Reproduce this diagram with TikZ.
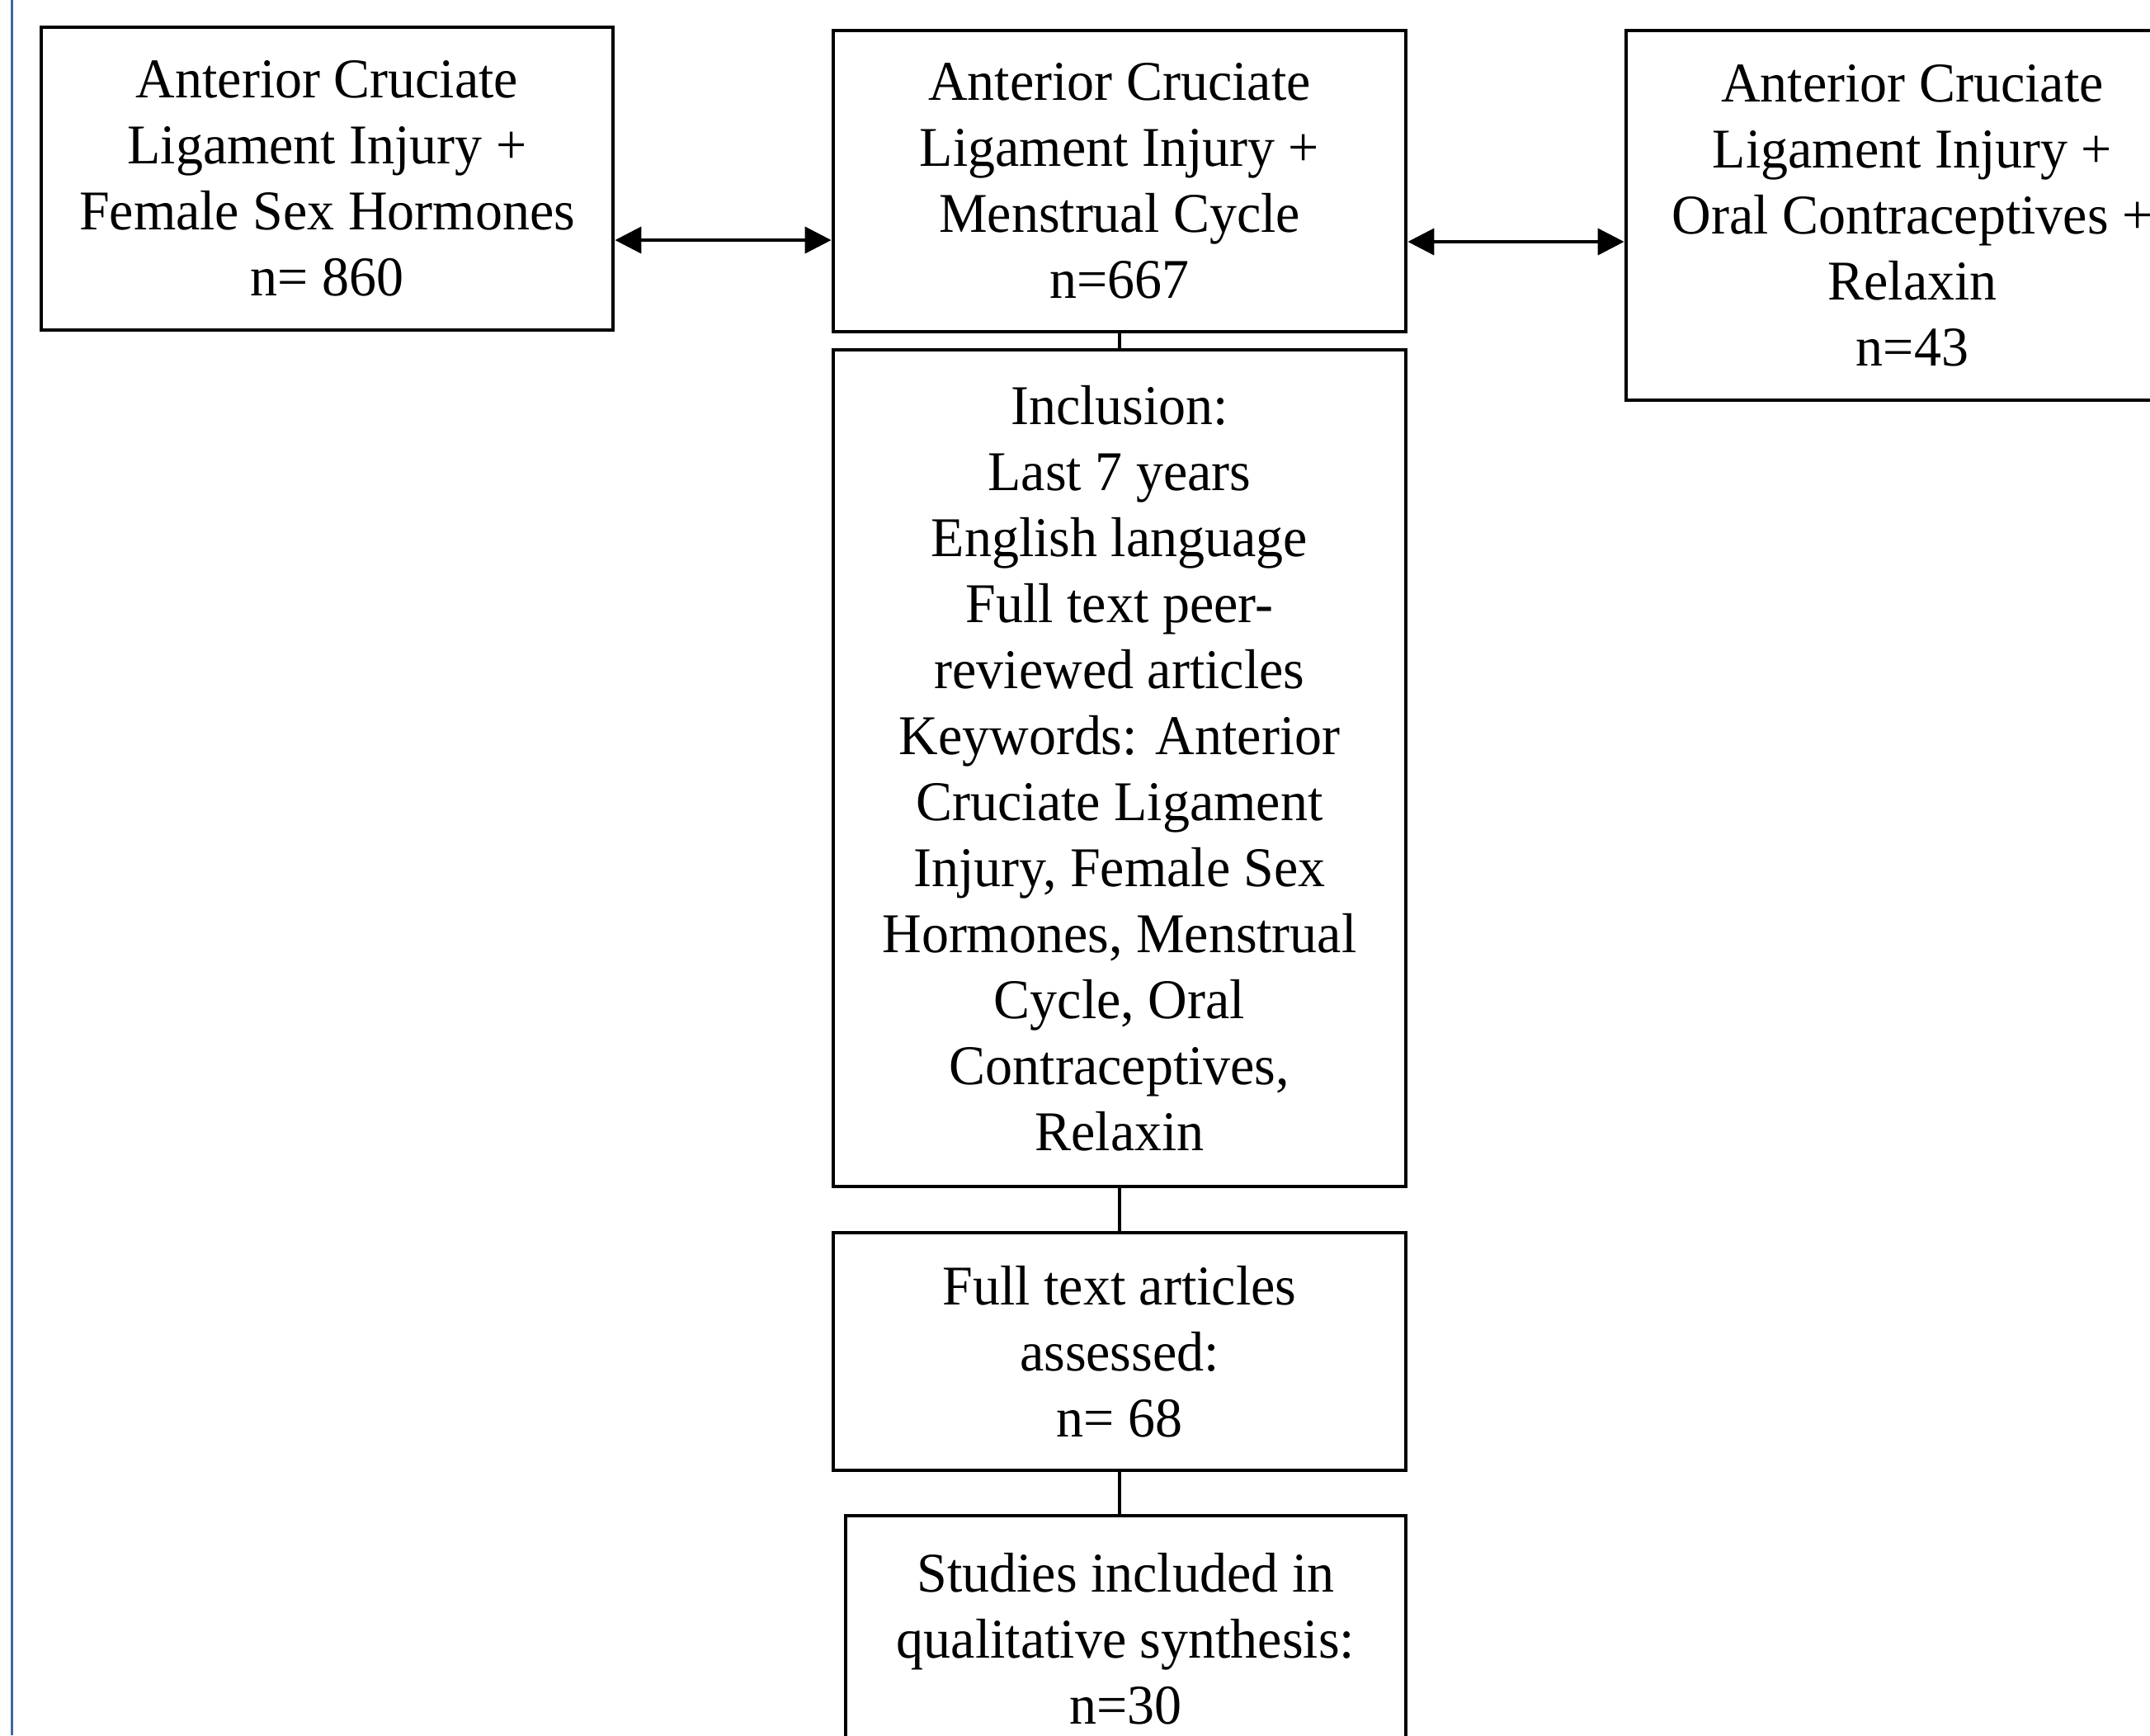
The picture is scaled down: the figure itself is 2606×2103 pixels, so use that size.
\documentclass[tikz,border=0pt]{standalone}
\usepackage{fontspec}
\setmainfont[FakeStretch=0.97]{Liberation Serif}
\usetikzlibrary{arrows.meta}
\definecolor{edgeblue}{RGB}{65,105,160}
\tikzset{
  box/.style={draw=black, line width=1.2pt, align=center, inner sep=0pt,
    font=\fontsize{17pt}{20pt}\selectfont},
  link/.style={draw=black, line width=1pt},
  twoway/.style={draw=black, line width=1pt, {Triangle[length=8pt,width=8pt]}-{Triangle[length=8pt,width=8pt]}}
}
\begin{document}
\begin{tikzpicture}[x=0.25pt, y=-0.25pt]
\useasboundingbox (0,0) rectangle (2606,2103);
\clip (0,0) rectangle (2606,2103);
\fill[white] (0,0) rectangle (2606,2103);
\coordinate (btop) at (14,0);
\coordinate (bbot) at (14,2103);
\draw[edgeblue, line width=0.75pt] (btop) -- (bbot);

\node[box, minimum width=173.25pt, minimum height=91.75pt] (L) at (396.5,216.5)
  {Anterior Cruciate\\Ligament Injury +\\Female Sex Hormones\\n= 860};
\node[box, minimum width=173.5pt, minimum height=91.25pt] (C) at (1357,219.5)
  {Anterior Cruciate\\Ligament Injury +\\Menstrual Cycle\\n=667};
\node[box, minimum width=173.5pt, minimum height=112pt] (R) at (2318,261)
  {Anterior Cruciate\\Ligament Injury +\\Oral Contraceptives +\\Relaxin\\n=43};
\node[box, minimum width=173.5pt, minimum height=253.5pt] (I) at (1357,931)
  {Inclusion:\\Last 7 years\\English language\\Full text peer-\\reviewed articles\\Keywords: Anterior\\Cruciate Ligament\\Injury, Female Sex\\Hormones, Menstrual\\Cycle, Oral\\Contraceptives,\\Relaxin};
\node[box, minimum width=173.5pt, minimum height=72pt] (F) at (1357,1638)
  {Full text articles\\assessed:\\n= 68};
\node[box, minimum width=169.75pt, minimum height=74.5pt] (S) at (1364.5,1986)
  {Studies included in\\qualitative synthesis:\\n=30};

\coordinate (ya) at (0,291);
\coordinate (yb) at (0,293);
\draw[twoway] (L.east |- ya) -- (C.west |- ya);
\draw[twoway] (C.east |- yb) -- (R.west |- yb);
\draw[link] (C.south) -- (I.north);
\draw[link] (I.south) -- (F.north);
\draw[link] (F.south) -- (F.south |- S.north);
\end{tikzpicture}
\end{document}
